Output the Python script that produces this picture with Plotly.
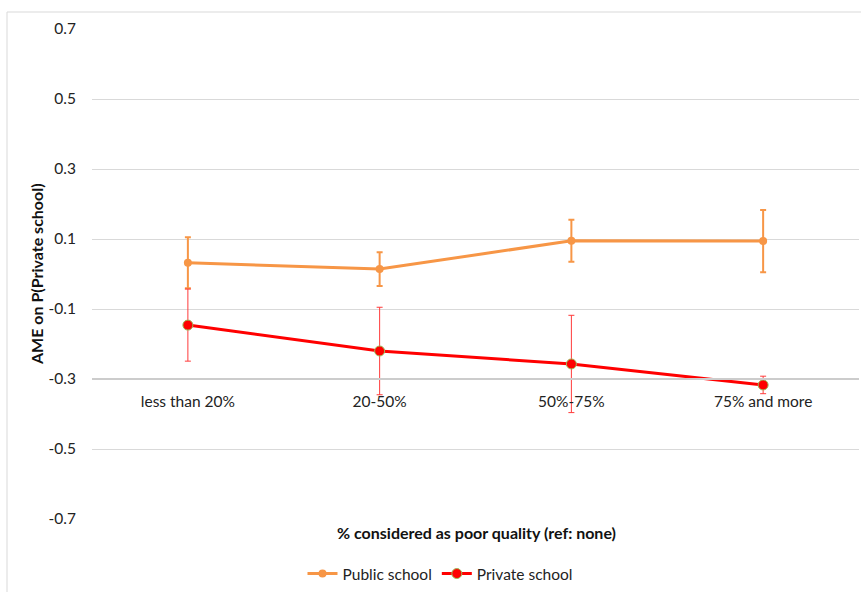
import plotly.graph_objects as go

categories = ["less than 20%", "20-50%", "50%-75%", "75% and more"]
public_vals = [0.032, 0.014, 0.095, 0.094]
public_err = [0.073, 0.048, 0.060, 0.089]
private_vals = [-0.146, -0.220, -0.257, -0.317]
private_err = [0.103, 0.125, 0.139, 0.025]
y_ticks = [-0.7, -0.5, -0.3, -0.1, 0.1, 0.3, 0.5, 0.7]
y_tick_labels = ["-0.7", "-0.5", "-0.3", "-0.1", "0.1", "0.3", "0.5", "0.7"]

FONT = "Lato, 'Open Sans', sans-serif"
W, H = 861, 592
L, R, T, B = 92, 2, 29, 73
pw, ph = W - L - R, H - T - B

def px_x(x):
    return (x - L) / pw

def px_y(y):
    return (H - B - y) / ph

fig = go.Figure()
fig.add_trace(go.Scatter(
    x=categories, y=public_vals, name="Public school", mode="lines+markers",
    line=dict(color="#F79646", width=3),
    marker=dict(color="#F79646", size=8),
    error_y=dict(type="data", array=public_err, visible=True,
                 color="#F79646", thickness=2, width=3),
))
fig.add_trace(go.Scatter(
    x=categories, y=private_vals, name="Private school", mode="lines+markers",
    line=dict(color="#FF0000", width=3),
    marker=dict(color="#FF0000", size=10, line=dict(color="#9BBB59", width=1)),
    error_y=dict(type="data", array=private_err, visible=True,
                 color="#FF3B3B", thickness=1, width=3),
))

axis_pos = (-0.3 - (-0.7)) / 1.4

fig.update_layout(
    width=W, height=H,
    margin=dict(l=L, r=R, t=T, b=B, autoexpand=False),
    paper_bgcolor="white", plot_bgcolor="white",
    font=dict(family=FONT, size=15.5, color="#222"),
    xaxis=dict(
        type="category", range=[-0.5, 3.5],
        anchor="free", position=axis_pos, automargin=False,
        showline=True, linecolor="#cccccc", linewidth=2,
        showgrid=False, ticks="", tickfont=dict(size=15.5, color="#222"),
        ticklabelstandoff=8,
    ),
    yaxis=dict(
        range=[-0.7, 0.7], tickvals=y_ticks, ticktext=y_tick_labels,
        showgrid=True, gridcolor="#d9d9d9", gridwidth=1, automargin=False,
        zeroline=False, showline=False, ticks="",
        tickfont=dict(size=15.5, color="#222"), ticklabelstandoff=15,
    ),
    showlegend=True,
    legend=dict(orientation="h", x=px_x(440), xanchor="center", y=px_y(574), yanchor="middle",
                font=dict(size=15.5, color="#222"), bgcolor="rgba(0,0,0,0)", itemwidth=30),
    annotations=[
        dict(text="<b>% considered as poor quality (ref: none)</b>", xref="paper", yref="paper",
             x=px_x(476), y=px_y(532), xanchor="center", yanchor="middle",
             showarrow=False, font=dict(size=16, color="#111")),
        dict(text="<b>AME on P(Private school)</b>", xref="paper", yref="paper",
             x=px_x(36), y=px_y(274), xanchor="center", yanchor="middle", textangle=-90,
             showarrow=False, font=dict(size=16, color="#111")),
    ],
    shapes=[dict(type="rect", xref="paper", yref="paper",
                 x0=px_x(7), x1=px_x(866), y0=px_y(600), y1=px_y(12),
                 line=dict(color="#d9d9d9", width=1), fillcolor="rgba(0,0,0,0)", layer="below")],
)

fig.write_html("out.html", config={"displayModeBar": False},
               post_script="document.body.style.margin='0';document.body.style.padding='0';")
